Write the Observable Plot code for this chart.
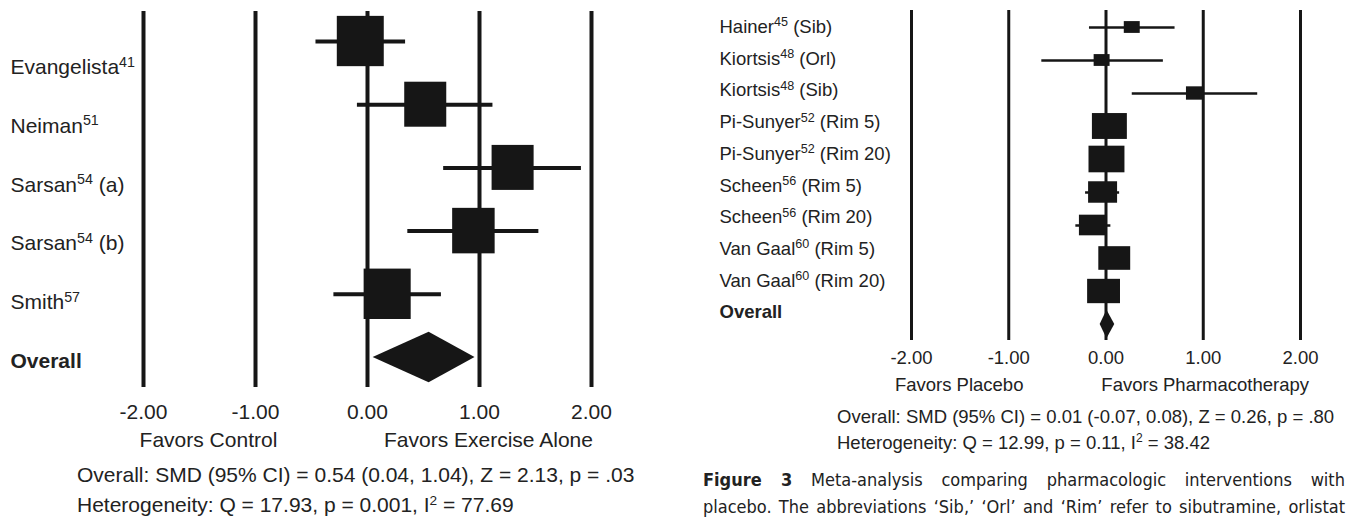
<!DOCTYPE html>
<html><head><meta charset="utf-8">
<script src="https://cdn.jsdelivr.net/npm/d3@7"></script>
<script src="https://cdn.jsdelivr.net/npm/@observablehq/plot@0.6"></script>
<style>
body{margin:0;background:#fff;width:1347px;height:518px;overflow:hidden;position:relative;font-family:"Liberation Sans",Arial,Helvetica,sans-serif;color:#222;}
.panel{position:absolute;top:0;}
#left{left:0;width:680px;height:518px;}
#right{left:680px;width:667px;height:518px;}
.note{position:absolute;white-space:nowrap;line-height:30px;}
.note sup{font-size:65%;vertical-align:0;position:relative;top:-0.55em;}
.cap{position:absolute;left:23px;width:642px;white-space:nowrap;text-align:justify;text-align-last:justify;font-family:"Liberation Sans Narrow","DejaVu Sans Condensed","Liberation Sans",sans-serif;font-size:18px;line-height:26px;color:#222;}
.cap b{font-weight:bold;}
</style></head>
<body>
<div id="left" class="panel"></div>
<div id="right" class="panel"></div>
<script>
// ---------- data ----------
const tickValues = [-2, -1, 0, 1, 2];

// Left panel: exercise alone vs control
const leftNames  = ["Evangelista", "Neiman", "Sarsan", "Sarsan", "Smith"];
const leftRefs   = ["41", "51", "54", "54", "57"];
const leftSuffix = ["", "", " (a)", " (b)", ""];
const leftSMD    = [-0.06, 0.52, 1.30, 0.95, 0.18];
const leftLo     = [-0.46, -0.09, 0.68, 0.36, -0.30];
const leftHi     = [0.34, 1.12, 1.91, 1.53, 0.66];
const leftWeight = [22.6, 18.1, 18.1, 18.5, 22.7];
const leftOverall = [0.05, 0.55, 0.96]; // lo, est, hi
const leftFavors = ["Favors Control", "Favors Exercise Alone"];
const leftStats = ["Overall: SMD (95% CI) = 0.54 (0.04, 1.04), Z = 2.13, p = .03",
                   "Heterogeneity: Q = 17.93, p = 0.001, I<sup>2</sup> = 77.69"];

// Right panel: pharmacotherapy vs placebo
const rightNames  = ["Hainer", "Kiortsis", "Kiortsis", "Pi-Sunyer", "Pi-Sunyer", "Scheen", "Scheen", "Van Gaal", "Van Gaal"];
const rightRefs   = ["45", "48", "48", "52", "52", "56", "56", "60", "60"];
const rightSuffix = [" (Sib)", " (Orl)", " (Sib)", " (Rim 5)", " (Rim 20)", " (Rim 5)", " (Rim 20)", " (Rim 5)", " (Rim 20)"];
const rightSMD    = [0.27, -0.04, 0.92, 0.04, 0.01, -0.03, -0.13, 0.09, -0.02];
const rightLo     = [-0.17, -0.66, 0.27, -0.08, -0.10, -0.21, -0.31, -0.03, -0.13];
const rightHi     = [0.71, 0.59, 1.56, 0.16, 0.12, 0.14, 0.05, 0.21, 0.09];
const rightWeight = [3.6, 3.6, 4.6, 17.3, 18.3, 11.9, 11.0, 14.4, 15.3];
const rightOverall = [-0.06, 0.01, 0.09]; // lo, est, hi
const rightFavors = ["Favors Placebo", "Favors Pharmacotherapy"];
const rightStats = ["Overall: SMD (95% CI) = 0.01 (-0.07, 0.08), Z = 0.26, p = .80",
                    "Heterogeneity: Q = 12.99, p = 0.11, I<sup>2</sup> = 38.42"];
const captionLines = ["<b>Figure 3</b> Meta-analysis comparing pharmacologic interventions with",
                      "placebo. The abbreviations \u2018Sib,\u2019 \u2018Orl\u2019 and \u2018Rim\u2019 refer to sibutramine, orlistat"];

// ---------- drawing ----------
const INK = "#161616";

function forest(cfg) {
  const n = cfg.names.length;
  const rows = cfg.names.map((name, i) => ({
    row: i, smd: cfg.smd[i], lo: cfg.lo[i], hi: cfg.hi[i], w: cfg.weight[i]
  }));
  const labels = cfg.names.map((name, i) => ({
    row: cfg.labelRow(i), text: name + "^" + cfg.refs[i] + "^" + cfg.suffix[i]
  }));
  labels.push({row: cfg.labelRow(n), text: "Overall"});
  const [oLo, oEst, oHi] = cfg.overall;
  const diamond = [
    {x: oLo, y1: n, y2: n},
    {x: oEst, y1: n - cfg.diaH, y2: n + cfg.diaH},
    {x: oHi, y1: n, y2: n}
  ];
  const favors = cfg.favors.map((t, i) => ({t, x: cfg.favorsX[i]}));

  const svg = Plot.plot({
    width: cfg.width, height: cfg.height,
    marginLeft: cfg.marginLeft, marginRight: cfg.marginRight,
    marginTop: cfg.marginTop, marginBottom: cfg.marginBottom,
    style: {fontFamily: "'Liberation Sans', Arial, Helvetica, sans-serif", fontSize: cfg.fontSize + "px", color: "#222", background: "white", overflow: "visible"},
    x: {domain: [-2, 2], ticks: tickValues, tickFormat: d => d.toFixed(2), tickSize: 0, tickPadding: cfg.tickPad, label: null},
    y: {domain: cfg.yDomain, reverse: true, axis: null},
    marks: [
      Plot.ruleX(tickValues, {stroke: INK, strokeWidth: cfg.ruleW}),
      Plot.ruleY(rows, {y: "row", x1: "lo", x2: "hi", stroke: INK, strokeWidth: cfg.ciW}),
      Plot.rect(rows, {
        x1: d => d.smd - cfg.hwK * Math.sqrt(d.w), x2: d => d.smd + cfg.hwK * Math.sqrt(d.w),
        y1: d => d.row - cfg.hhK * Math.sqrt(d.w), y2: d => d.row + cfg.hhK * Math.sqrt(d.w),
        fill: INK
      }),
      Plot.areaY(diamond, {x: "x", y1: "y1", y2: "y2", fill: INK, curve: "linear"}),
      Plot.text(labels, {y: "row", text: "text", frameAnchor: "left", dx: cfg.labelDx, textAnchor: "start", lineAnchor: "middle", fill: "#222"}),
      Plot.text(favors, {x: "x", text: "t", frameAnchor: "bottom", dy: cfg.favorsDy, lineAnchor: "middle", fill: "#222"})
    ]
  });

  // superscript references and bold "Overall"
  svg.querySelectorAll("text").forEach(t => {
    const s = t.textContent;
    if (s === "Overall") { t.setAttribute("font-weight", "bold"); return; }
    if (s.indexOf("^") < 0) return;
    const [a, ref, b] = s.split("^");
    while (t.firstChild) t.removeChild(t.firstChild);
    const ns = "http://www.w3.org/2000/svg";
    const sup = cfg.fontSize * 0.68, rise = cfg.fontSize * 0.36;
    const t1 = document.createElementNS(ns, "tspan"); t1.textContent = a; t.appendChild(t1);
    const t2 = document.createElementNS(ns, "tspan"); t2.textContent = ref;
    t2.setAttribute("font-size", sup); t2.setAttribute("dy", -rise); t.appendChild(t2);
    if (b) {
      const t3 = document.createElementNS(ns, "tspan"); t3.textContent = b;
      t3.setAttribute("dy", rise); t.appendChild(t3);
    }
  });
  return svg;
}

const left = document.getElementById("left");
left.appendChild(forest({
  names: leftNames, refs: leftRefs, suffix: leftSuffix, smd: leftSMD, lo: leftLo, hi: leftHi,
  weight: leftWeight, overall: leftOverall, favors: leftFavors, favorsX: [-1.42, 1.08],
  width: 680, height: 460, marginLeft: 143, marginRight: 89, marginTop: 11, marginBottom: 73,
  yDomain: [-0.475, 5.475], labelRow: i => 0.41 + 0.93 * i,
  fontSize: 21, ruleW: 4, ciW: 4, hwK: 0.0441, hhK: 0.0837, diaH: 0.4,
  labelDx: -133, tickPad: 17, favorsDy: 53
}));
leftStats.forEach((s, i) => {
  const d = document.createElement("div");
  d.className = "note"; d.style.left = "77px"; d.style.top = (460 + 30 * i) + "px";
  d.style.fontSize = "21px"; d.innerHTML = s; left.appendChild(d);
});

const right = document.getElementById("right");
right.appendChild(forest({
  names: rightNames, refs: rightRefs, suffix: rightSuffix, smd: rightSMD, lo: rightLo, hi: rightHi,
  weight: rightWeight, overall: rightOverall, favors: rightFavors, favorsX: [-1.51, 1.02],
  width: 667, height: 400, marginLeft: 231, marginRight: 47, marginTop: 10, marginBottom: 60,
  yDomain: [-0.515, 9.485], labelRow: i => -0.01 + 0.9606 * i,
  fontSize: 18.5, ruleW: 3, ciW: 2.5, hwK: 0.0432, hhK: 0.0943, diaH: 0.43,
  labelDx: -192, tickPad: 10, favorsDy: 45
}));
rightStats.forEach((s, i) => {
  const d = document.createElement("div");
  d.className = "note"; d.style.left = "157px"; d.style.top = (402 + 26 * i) + "px";
  d.style.fontSize = "18.5px"; d.style.lineHeight = "29px"; d.innerHTML = s; right.appendChild(d);
});
captionLines.forEach((s, i) => {
  const d = document.createElement("div");
  d.className = "cap"; d.style.top = (467 + 26.5 * i) + "px";
  d.innerHTML = s; right.appendChild(d);
});
</script>
</body></html>
